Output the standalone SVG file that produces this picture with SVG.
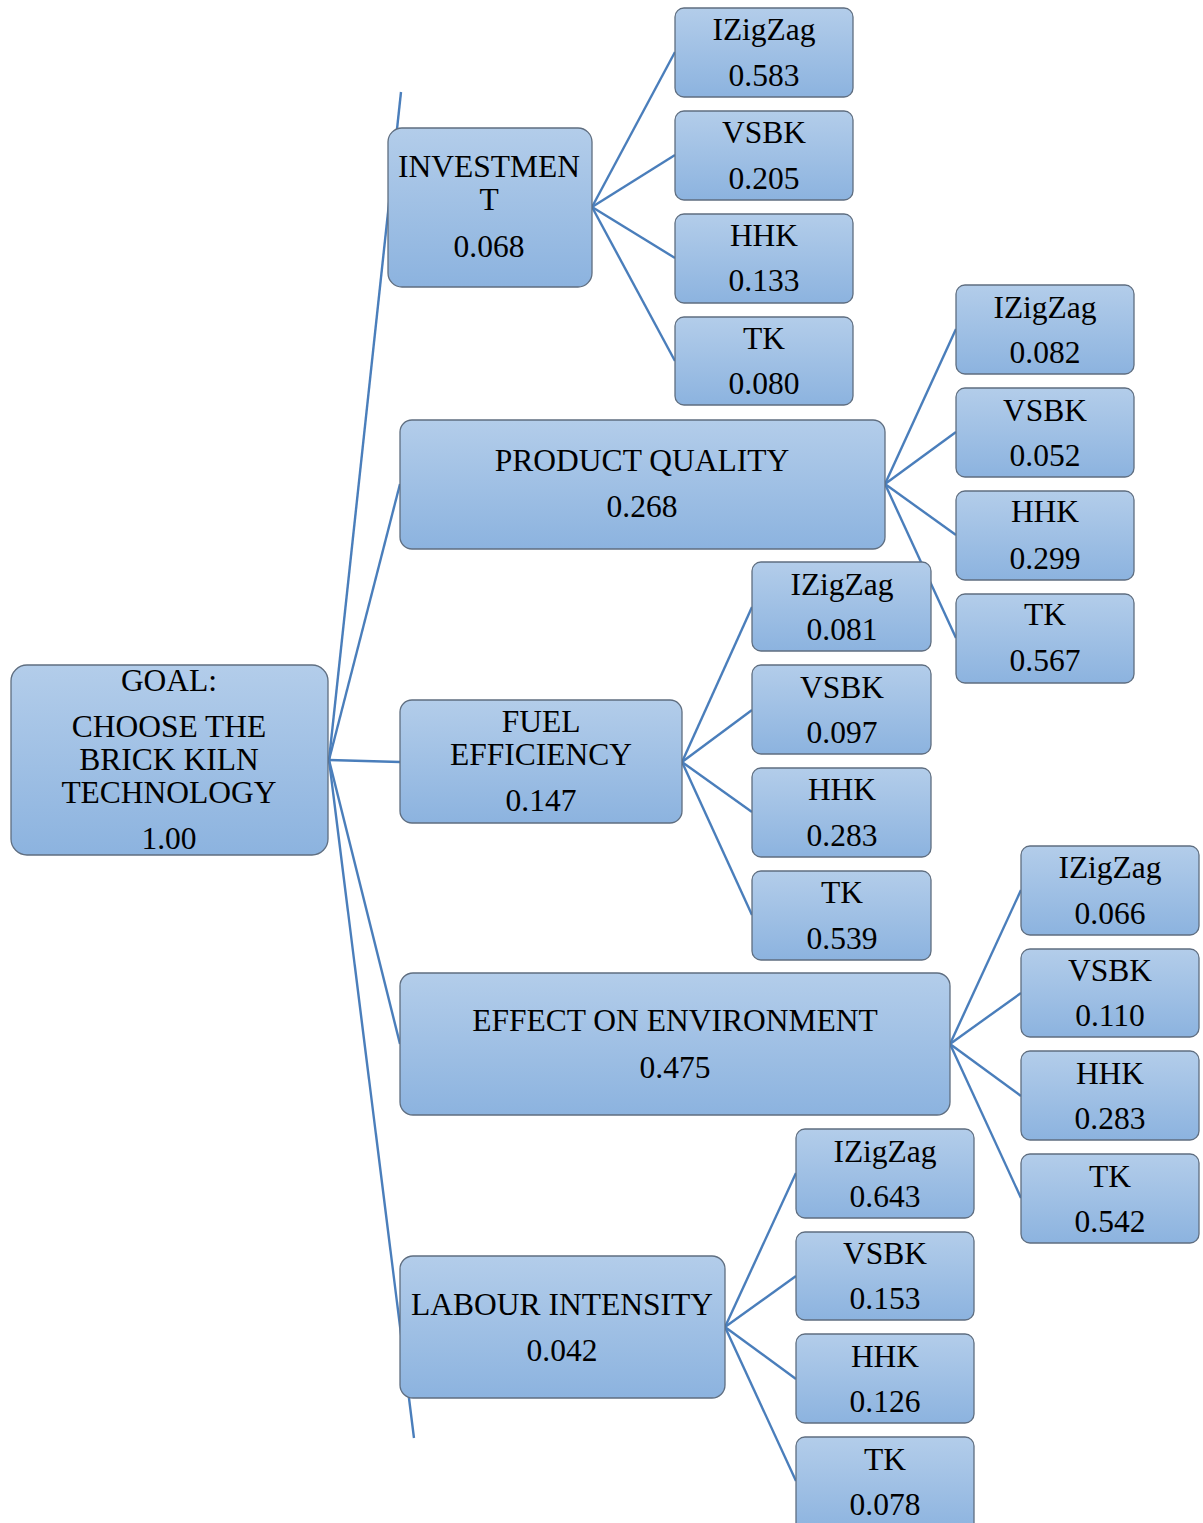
<svg xmlns="http://www.w3.org/2000/svg" width="1203" height="1523" viewBox="0 0 1203 1523">
<defs>
<linearGradient id="g" x1="0" y1="0" x2="0" y2="1">
<stop offset="0" stop-color="#b3cdea"/>
<stop offset="1" stop-color="#8cb3df"/>
</linearGradient>
<style>
.b{fill:url(#g);stroke:#5f6e80;stroke-width:1.3}
.t{font-family:"Liberation Serif","Times New Roman",serif;font-size:31.5px;fill:#000;text-anchor:middle}
.c line{stroke:#4a7ebb;stroke-width:2.4;fill:none}
</style>
</defs>
<rect width="1203" height="1523" fill="#fff"/>
<g class="c" id="connectors">
<line x1="329" y1="760" x2="401" y2="92"/>
<line x1="329" y1="760" x2="400" y2="484"/>
<line x1="329" y1="760" x2="400" y2="762"/>
<line x1="329" y1="760" x2="400" y2="1044"/>
<line x1="329" y1="760" x2="414" y2="1438"/>
<line x1="592" y1="207" x2="675" y2="52"/>
<line x1="592" y1="207" x2="675" y2="155"/>
<line x1="592" y1="207" x2="675" y2="258"/>
<line x1="592" y1="207" x2="675" y2="361"/>
<line x1="885" y1="484" x2="956" y2="329"/>
<line x1="885" y1="484" x2="956" y2="432"/>
<line x1="885" y1="484" x2="956" y2="535"/>
<line x1="885" y1="484" x2="956" y2="638"/>
<line x1="682" y1="762" x2="752" y2="607"/>
<line x1="682" y1="762" x2="752" y2="710"/>
<line x1="682" y1="762" x2="752" y2="812"/>
<line x1="682" y1="762" x2="752" y2="915"/>
<line x1="950" y1="1044" x2="1021" y2="890"/>
<line x1="950" y1="1044" x2="1021" y2="993"/>
<line x1="950" y1="1044" x2="1021" y2="1096"/>
<line x1="950" y1="1044" x2="1021" y2="1198"/>
<line x1="725" y1="1327" x2="796" y2="1173"/>
<line x1="725" y1="1327" x2="796" y2="1276"/>
<line x1="725" y1="1327" x2="796" y2="1379"/>
<line x1="725" y1="1327" x2="796" y2="1481"/>
</g>
<g id="goal"><rect class="b" x="11" y="665" width="317" height="190" rx="16"/>
<text class="t" x="169" y="691">GOAL:</text><text class="t" x="169" y="737">CHOOSE THE</text><text class="t" x="169" y="770">BRICK KILN</text><text class="t" x="169" y="803">TECHNOLOGY</text><text class="t" x="169" y="849">1.00</text></g>
<g id="investment"><rect class="b" x="388" y="128" width="204" height="159" rx="14"/>
<text class="t" x="489" y="177">INVESTMEN</text><text class="t" x="489" y="210">T</text><text class="t" x="489" y="257">0.068</text></g>
<g id="quality"><rect class="b" x="400" y="420" width="485" height="129" rx="12"/>
<text class="t" x="642" y="471">PRODUCT QUALITY</text><text class="t" x="642" y="517">0.268</text></g>
<g id="fuel"><rect class="b" x="400" y="700" width="282" height="123" rx="12"/>
<text class="t" x="541" y="732">FUEL</text><text class="t" x="541" y="765">EFFICIENCY</text><text class="t" x="541" y="811">0.147</text></g>
<g id="environment"><rect class="b" x="400" y="973" width="550" height="142" rx="13"/>
<text class="t" x="675" y="1031">EFFECT ON ENVIRONMENT</text><text class="t" x="675" y="1078">0.475</text></g>
<g id="labour"><rect class="b" x="400" y="1256" width="325" height="142" rx="13"/>
<text class="t" x="562" y="1315">LABOUR INTENSITY</text><text class="t" x="562" y="1361">0.042</text></g>

<g id="inv-izigzag"><rect class="b" x="675" y="8" width="178" height="89" rx="9"/><text class="t" x="764" y="40">IZigZag</text><text class="t" x="764" y="86">0.583</text></g>
<g id="inv-vsbk"><rect class="b" x="675" y="111" width="178" height="89" rx="9"/><text class="t" x="764" y="143">VSBK</text><text class="t" x="764" y="189">0.205</text></g>
<g id="inv-hhk"><rect class="b" x="675" y="214" width="178" height="89" rx="9"/><text class="t" x="764" y="246">HHK</text><text class="t" x="764" y="291">0.133</text></g>
<g id="inv-tk"><rect class="b" x="675" y="317" width="178" height="88" rx="9"/><text class="t" x="764" y="349">TK</text><text class="t" x="764" y="394">0.080</text></g>

<g id="pq-izigzag"><rect class="b" x="956" y="285" width="178" height="89" rx="9"/><text class="t" x="1045" y="318">IZigZag</text><text class="t" x="1045" y="363">0.082</text></g>
<g id="pq-vsbk"><rect class="b" x="956" y="388" width="178" height="89" rx="9"/><text class="t" x="1045" y="421">VSBK</text><text class="t" x="1045" y="466">0.052</text></g>
<g id="pq-hhk"><rect class="b" x="956" y="491" width="178" height="89" rx="9"/><text class="t" x="1045" y="522">HHK</text><text class="t" x="1045" y="569">0.299</text></g>
<g id="pq-tk"><rect class="b" x="956" y="594" width="178" height="89" rx="9"/><text class="t" x="1045" y="625">TK</text><text class="t" x="1045" y="671">0.567</text></g>

<g id="fe-izigzag"><rect class="b" x="752" y="562" width="179" height="89" rx="9"/><text class="t" x="842" y="595">IZigZag</text><text class="t" x="842" y="640">0.081</text></g>
<g id="fe-vsbk"><rect class="b" x="752" y="665" width="179" height="89" rx="9"/><text class="t" x="842" y="698">VSBK</text><text class="t" x="842" y="743">0.097</text></g>
<g id="fe-hhk"><rect class="b" x="752" y="768" width="179" height="89" rx="9"/><text class="t" x="842" y="800">HHK</text><text class="t" x="842" y="846">0.283</text></g>
<g id="fe-tk"><rect class="b" x="752" y="871" width="179" height="89" rx="9"/><text class="t" x="842" y="903">TK</text><text class="t" x="842" y="949">0.539</text></g>

<g id="env-izigzag"><rect class="b" x="1021" y="846" width="178" height="89" rx="9"/><text class="t" x="1110" y="878">IZigZag</text><text class="t" x="1110" y="924">0.066</text></g>
<g id="env-vsbk"><rect class="b" x="1021" y="949" width="178" height="88" rx="9"/><text class="t" x="1110" y="981">VSBK</text><text class="t" x="1110" y="1026">0.110</text></g>
<g id="env-hhk"><rect class="b" x="1021" y="1051" width="178" height="89" rx="9"/><text class="t" x="1110" y="1084">HHK</text><text class="t" x="1110" y="1129">0.283</text></g>
<g id="env-tk"><rect class="b" x="1021" y="1154" width="178" height="89" rx="9"/><text class="t" x="1110" y="1187">TK</text><text class="t" x="1110" y="1232">0.542</text></g>

<g id="lab-izigzag"><rect class="b" x="796" y="1129" width="178" height="89" rx="9"/><text class="t" x="885" y="1162">IZigZag</text><text class="t" x="885" y="1207">0.643</text></g>
<g id="lab-vsbk"><rect class="b" x="796" y="1232" width="178" height="88" rx="9"/><text class="t" x="885" y="1264">VSBK</text><text class="t" x="885" y="1309">0.153</text></g>
<g id="lab-hhk"><rect class="b" x="796" y="1334" width="178" height="89" rx="9"/><text class="t" x="885" y="1367">HHK</text><text class="t" x="885" y="1412">0.126</text></g>
<g id="lab-tk"><rect class="b" x="796" y="1437" width="178" height="96" rx="9"/><text class="t" x="885" y="1470">TK</text><text class="t" x="885" y="1515">0.078</text></g>
</svg>
